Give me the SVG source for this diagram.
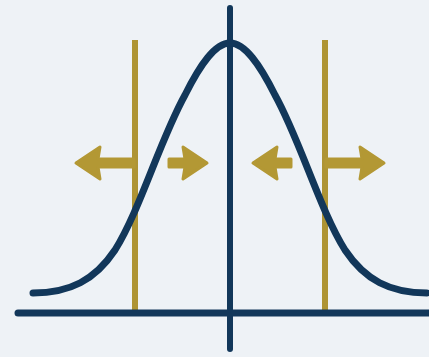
<svg xmlns="http://www.w3.org/2000/svg" width="429" height="357" viewBox="0 0 429 357">
<style>
.navy{stroke:#12375a;fill:none;stroke-linecap:round}
.gold{stroke:#ae9434;fill:none}
.arrow{fill:#b39834;stroke:#b39834;stroke-width:3;stroke-linejoin:round}
</style>
<rect width="429" height="357" fill="#eef2f6"/>
<g id="limits">
<line class="gold" x1="135" y1="40" x2="135" y2="313" stroke-width="6"/>
<line class="gold" x1="325" y1="40" x2="325" y2="313" stroke-width="6"/>
</g>
<g id="axes">
<line class="navy" x1="18" y1="313" x2="429" y2="313" stroke-width="7" stroke-linecap="butt"/>
<line class="navy" x1="230" y1="8" x2="230" y2="349" stroke-width="6"/>
</g>
<g id="curve">
<path class="navy" stroke-width="7" d="M33,293 C70,293 95,280 115,250 C140,210 160,140 185,95 C200,65 215,43 230,43 C245,43 260,65 275,95 C300,140 320,210 345,250 C365,280 390,293 427,293"/>
</g>
<g id="arrows">
<path class="arrow" d="M76,163 L100,147 L98,159 L134,159 L134,167 L98,167 L100,179 Z"/>
<path class="arrow" d="M207,163 L183,147 L185,159 L169,159 L169,167 L185,167 L183,179 Z"/>
<path class="arrow" d="M253,163 L277,147 L275,159 L291,159 L291,167 L275,167 L277,179 Z"/>
<path class="arrow" d="M384,163 L360,147 L362,159 L326,159 L326,167 L362,167 L360,179 Z"/>
</g>
</svg>
